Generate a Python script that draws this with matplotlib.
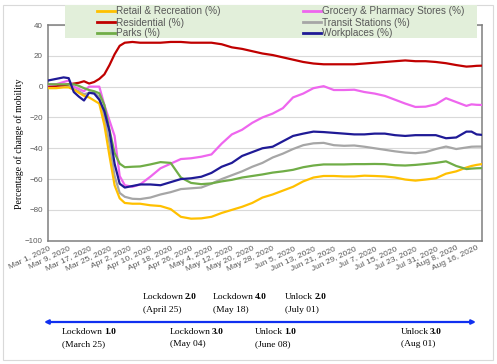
import matplotlib
matplotlib.use("Agg")
import matplotlib.pyplot as plt
from matplotlib.patches import Rectangle

# ---- data (day index 0 = Mar 1, 2020) ----
days = [0, 3, 6, 8, 10, 12, 14, 16, 18, 20, 22, 24, 26, 28, 30, 33, 36, 40,
        44, 48, 52, 56, 60, 64, 68, 72, 76, 80, 84, 88, 92, 96, 100, 104, 108,
        112, 116, 120, 124, 128, 132, 136, 140, 144, 148, 152, 156, 160, 164,
        166, 168, 170]

retail = [-1, -1, -0.5, -0.5, -2, -4, -6, -7, -9, -11, -25, -45, -64, -72.5, -75.5,
          -76, -76, -77, -77.5, -79.5, -84.5, -85.7, -85.5, -84.5, -82, -80, -78,
          -75.5, -72, -70, -67.5, -65, -61.5, -59, -58, -58, -58.3, -58.3, -57.8,
          -58, -58.3, -59, -60.3, -61, -60.3, -59.5, -56.5, -55, -52.5, -51.5,
          -50.8, -50.3]

grocery = [1, 1.5, 3, 4, 0, -1.5, -3, 0, 0, 0, -12, -22, -32, -58, -64, -65, -63.5,
           -58.5, -53, -50, -47, -46.5, -45.5, -44, -37, -31, -28, -23.5, -20,
           -17.5, -14, -7, -4.5, -1, 0.3, -2.2, -2.2, -2, -3.5, -4.5, -6, -8.5,
           -11, -13.2, -13, -11.5, -7.5, -10, -12.5, -11.5, -11.8, -11.9]

residential = [0.5, 0.5, 1, 1.5, 2, 2.5, 3.5, 2, 3, 5, 8, 14, 21, 26.5, 28.5, 29,
               28.5, 28.5, 28.5, 29, 29, 28.5, 28.5, 28.5, 27.5, 25.5, 24.5, 23,
               21.5, 20.5, 19, 17.5, 16, 15, 14.5, 14.5, 14.5, 14.5, 15, 15.5, 16,
               16.5, 17, 16.5, 16.5, 16, 15.2, 14, 13, 13.2, 13.5, 13.6]

transit = [1.5, 1.5, 1, 0, -1.5, -3, -5, -4, -4, -6.5, -20, -37, -58, -69, -71.5,
           -72.8, -73, -72, -70, -68.5, -66.5, -66, -65.5, -63, -60, -57.5, -55,
           -52, -49.5, -46, -43.5, -40.5, -38, -36.8, -36.5, -38, -38.4, -38.2,
           -39, -40, -41, -42, -42.8, -43.2, -42.5, -40.5, -38.9, -40.5, -39.5,
           -39, -38.9, -38.9]

parks = [1.5, 1.5, 1.5, 1.5, 1.5, 0.5, -1, -2.2, -3, -4.3, -12, -28, -43, -50,
         -52.3, -52, -51.8, -50.5, -49, -49.5, -59, -62.5, -63.3, -62.8, -61.5,
         -60.5, -59, -58, -57, -55.8, -55, -54, -52.3, -51.2, -50.5, -50.5, -50.5,
         -50.3, -50.3, -50.2, -50.3, -51, -51.2, -50.8, -50.2, -49.5, -48.5,
         -51.5, -53.5, -53.2, -53, -52.9]

workplaces = [4, 5, 6, 5.5, -3.5, -6.5, -9, -4, -4.5, -8.5, -16, -29, -50, -63,
              -65.5, -64.5, -63.5, -63.5, -64, -62, -60, -59.5, -58.5, -56, -52,
              -49.5, -45, -42.5, -40, -39, -35.5, -32, -30.5, -29.2, -29.5, -30,
              -30.5, -31, -31, -30.5, -30.5, -31.5, -32, -31.5, -31.5, -31.5,
              -33.5, -33, -29.2, -29.2, -31, -31.3]

tick_days = list(range(0, 169, 8))
tick_labels = ["Mar 1, 2020", "Mar 9, 2020", "Mar 17, 2020", "Mar 25, 2020",
               "Apr 2, 2020", "Apr 10, 2020", "Apr 18, 2020", "Apr 26, 2020",
               "May 4, 2020", "May 12, 2020", "May 20, 2020", "May 28, 2020",
               "Jun 5, 2020", "Jun 13, 2020", "Jun 21, 2020", "Jun 29, 2020",
               "Jul 7, 2020", "Jul 15, 2020", "Jul 23, 2020", "Jul 31, 2020",
               "Aug 8, 2020", "Aug 16, 2020"]

W, H = 497, 364
fig = plt.figure(figsize=(W / 100, H / 100), dpi=100)

def fx(px):
    return px / W

def fy(py):
    return 1 - py / H

# outer border
fig.patches.append(Rectangle((fx(3), fy(360)), fx(493) - fx(3), fy(5) - fy(360),
                             transform=fig.transFigure, fill=False,
                             edgecolor="#d9d9d9", lw=0.8, zorder=0))

ax = fig.add_axes([fx(48.3), fy(240.7), fx(481.7) - fx(48.3), fy(25) - fy(240.7)])

series = [
    ("Retail & Recreation (%)", retail, "#FFC000"),
    ("Grocery & Pharmacy Stores (%)", grocery, "#EE66EE"),
    ("Residential (%)", residential, "#C00000"),
    ("Transit Stations (%)", transit, "#A6A6A6"),
    ("Parks (%)", parks, "#70AD47"),
    ("Workplaces (%)", workplaces, "#1F1A96"),
]
order_z = {"Retail & Recreation (%)": 3, "Grocery & Pharmacy Stores (%)": 4,
           "Residential (%)": 3, "Transit Stations (%)": 2, "Parks (%)": 5,
           "Workplaces (%)": 6}
handles = {}
for name, vals, col in series:
    ln, = ax.plot(days, vals, color=col, lw=1.6, label=name, zorder=order_z[name],
                  solid_joinstyle="round")
    handles[name] = ln

ax.set_xlim(0, 170)
ax.set_ylim(-100, 40)
ax.set_yticks(range(-100, 41, 20))
ax.yaxis.grid(True, color="#d9d9d9", lw=0.8)
ax.set_axisbelow(True)
ax.set_xticks(tick_days)
ax.set_xticklabels(tick_labels, rotation=25, ha="right", rotation_mode="anchor",
                   fontsize=6.0, color="#595959", family="Liberation Sans")
for lab in ax.get_yticklabels():
    lab.set_fontsize(5.8)
    lab.set_color("#595959")
    lab.set_family("Liberation Sans")
ax.tick_params(axis="both", length=0, pad=4)
ax.tick_params(axis="x", pad=3)
for s in ax.spines.values():
    s.set_color("#7f7f7f")
    s.set_linewidth(1.1)

fig.text(fx(19), fy(144), "Percentage of change of mobility", rotation=90,
         ha="center", va="center", fontsize=7, family="Liberation Serif")

# legend background
fig.patches.append(Rectangle((fx(65), fy(38)), fx(477) - fx(65), fy(5) - fy(38),
                             transform=fig.transFigure, facecolor="#E2EFDA",
                             edgecolor="none", zorder=5))
col1 = ["Retail & Recreation (%)", "Residential (%)", "Parks (%)"]
col2 = ["Grocery & Pharmacy Stores (%)", "Transit Stations (%)", "Workplaces (%)"]
legkw = dict(loc="upper left", frameon=False, handlelength=1.8,
             handletextpad=0.05, labelspacing=0.1, borderpad=0, borderaxespad=0,
             prop={"family": "Liberation Sans", "size": 7.2})
l1 = fig.legend([handles[n] for n in col1], col1,
                bbox_to_anchor=(fx(97), fy(6.5)), **legkw)
l2 = fig.legend([handles[n] for n in col2], col2,
                bbox_to_anchor=(fx(303), fy(6.5)), **legkw)
for lg in (l1, l2):
    lg.set_zorder(6)
    for t in lg.get_texts():
        t.set_color("#595959")
    for h in lg.legend_handles:
        h.set_linewidth(2.0)

# timeline
ax.annotate("", xy=(fx(476), fy(322)), xytext=(fx(44), fy(322)),
            xycoords="figure fraction", textcoords="figure fraction",
            arrowprops=dict(arrowstyle="<|-|>", color="#1030F0", lw=1.6,
                            mutation_scale=6, shrinkA=0, shrinkB=0),
            annotation_clip=False)

events_top = [("Lockdown", "2.0", "(April 25)", 143),
              ("Lockdown", "4.0", "(May 18)", 213),
              ("Unlock", "2.0", "(July 01)", 285)]
events_bot = [("Lockdown", "1.0", "(March 25)", 62),
              ("Lockdown", "3.0", "(May 04)", 170),
              ("Unlock", "1.0", "(June 08)", 255),
              ("Unlock", "3.0", "(Aug 01)", 401)]

fig.canvas.draw()
renderer = fig.canvas.get_renderer()

def put_event(word, num, date, x, y1, y2):
    t = fig.text(fx(x), fy(y1), word, fontsize=6.8, family="Liberation Serif",
                 ha="left", va="center")
    bb = t.get_window_extent(renderer=renderer)
    fig.text((bb.x1 + 1.0) / W, fy(y1), num, fontsize=6.8, family="Liberation Serif",
             fontweight="bold", ha="left", va="center")
    fig.text(fx(x), fy(y2), date, fontsize=6.8, family="Liberation Serif",
             ha="left", va="center")

for w, n, d, x in events_top:
    put_event(w, n, d, x, 297, 310)
for w, n, d, x in events_bot:
    put_event(w, n, d, x, 332, 344)

fig.savefig("out.png", dpi=100)
